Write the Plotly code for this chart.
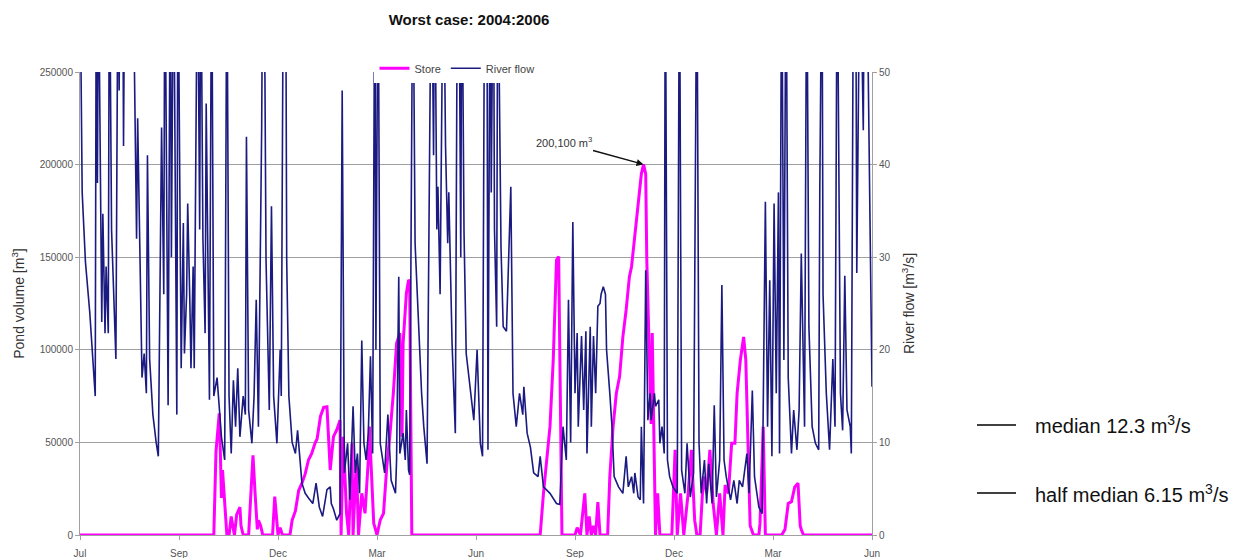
import pandas as pd
import plotly.graph_objects as go

START = pd.Timestamp("2004-07-01")

# River flow [m3/s]: day offset from 1 Jul 2004 and daily flow at that vertex
flow_day = [
    0, 1, 2, 5, 7, 9, 14, 15, 16, 17, 20, 21, 23, 24, 26, 27, 29, 33, 35, 36,
    37, 39, 40, 41, 45, 49, 52, 53, 57, 59, 61, 62, 64, 67, 70, 72, 75, 77, 78, 80,
    81, 83, 84, 86, 89, 90, 93, 95, 96, 98, 99, 101, 102, 104, 105, 108, 110, 111, 113, 115,
    116, 119, 121, 123, 126, 130, 133, 135, 137, 139, 141, 143, 145, 147, 150, 152, 153, 155, 158, 160,
    162, 164, 167, 168, 170, 171, 174, 176, 178, 181, 184, 185, 187, 189, 190, 192, 195, 198, 200, 204,
    207, 210, 214, 217, 220, 223, 227, 230, 231, 233, 236, 239, 241, 243, 246, 248, 251, 253, 255, 257,
    259, 261, 263, 265, 267, 269, 271, 272, 274, 276, 280, 283, 286, 290, 291, 293, 294, 297, 299, 300,
    302, 303, 306, 308, 311, 314, 316, 319, 320, 322, 323, 325, 326, 328, 329, 331, 332, 334, 336, 338,
    339, 342, 345, 347, 349, 350, 351, 353, 355, 359, 362, 365, 368, 370, 372, 374, 375, 377, 378, 380,
    381, 383, 384, 387, 389, 392, 394, 396, 398, 401, 404, 407, 408, 411, 414, 417, 421, 423, 426, 432,
    438, 441, 444, 447, 449, 451, 453, 455, 457, 458, 461, 463, 465, 466, 469, 470, 472, 474, 476, 478,
    479, 481, 483, 484, 487, 489, 491, 495, 499, 502, 504, 507, 509, 510, 513, 515, 516, 518, 520, 522,
    524, 525, 528, 529, 532, 533, 535, 537, 538, 540, 542, 545, 549, 551, 553, 556, 558, 561, 564, 567,
    569, 571, 574, 576, 578, 581, 583, 585, 588, 590, 592, 594, 598, 601, 604, 606, 609, 613, 615, 618,
    620, 624, 627, 630, 632, 634, 636, 638, 640, 642, 643, 645, 647, 649, 651, 654, 656, 659, 661, 663,
    666, 668, 670, 673, 676, 679, 680, 682, 683, 686, 689, 692, 694, 696, 699, 701, 703, 705, 708, 709,
    711, 713, 714, 717, 720, 721, 723, 728,
]
flow_val = [
    62, 44, 37, 29.5, 26.5, 24, 15, 65, 38, 62, 23, 34.7, 21.8, 29, 21.8, 65, 33, 19, 65, 48,
    65, 70, 42, 60, 70, 60, 32, 45, 17, 19.6, 15.3, 41, 19, 13, 10, 8.5, 44, 26, 65, 29,
    14, 65, 30, 65, 13, 65, 18, 33.7, 19.6, 26, 35.8, 25, 18, 29, 18, 65, 33, 65, 32, 21.8,
    46.6, 14.6, 65, 15, 17, 10.6, 8.1, 65, 15, 8.8, 16.7, 11.7, 18, 10.6, 15, 13, 43, 13.5, 9.9, 15,
    25.4, 11.7, 44, 65, 49.3, 29.7, 13.5, 35.5, 15, 9.9, 20, 15, 65, 65, 29.7, 15, 10, 8.8, 11.3, 5.6,
    4.5, 4.0, 3.4, 5.6, 3.0, 2.0, 4.9, 5.2, 3.4, 2.8, 1.6, 2.3, 48, 6.7, 9.9, 3.8, 13.9, 6.7, 8.8, 4.5,
    21, 9.9, 8.1, 11, 19.3, 8.8, 65, 20, 65, 9.9, 6.7, 13, 5.9, 4.5, 8.1, 27.9, 8.8, 11, 8.1, 13.5,
    7, 6.5, 65, 31.5, 22.5, 15.3, 11.7, 7.7, 22, 46, 65, 41, 65, 33, 37.6, 26, 40.5, 65, 42, 31.5,
    37, 20.7, 11, 65, 49.5, 30, 65, 32.6, 19.6, 15.3, 12.4, 20, 9.9, 8.5, 65, 65, 9.2, 65, 37, 65,
    33, 22.5, 65, 31, 22.5, 22, 30, 37.6, 15.3, 11.7, 15.3, 13, 16, 11, 9.5, 6.7, 6.3, 8.5, 5.2, 4.5,
    3.4, 3.3, 11.7, 8.1, 25.4, 10, 33.8, 15.3, 21.8, 11.7, 21.5, 13.5, 22, 8.8, 22.5, 11.7, 21.5, 15.3, 24.7, 25,
    26, 26.8, 26, 20, 15.3, 11.7, 6.3, 5.2, 4.5, 8.5, 5.2, 6.3, 4.5, 6.7, 4.1, 3.8, 11.7, 3.4, 28.6, 12.4,
    15.3, 12.4, 15.3, 13.9, 14.6, 9.9, 11.7, 8.8, 65, 8.1, 6.3, 5.2, 4.5, 65, 7, 4.5, 9.9, 4.1, 6.7, 65,
    9.9, 4.5, 8.1, 3.4, 7.7, 3.4, 14, 4.1, 8.1, 27, 8.1, 6.3, 3.8, 5.9, 3.4, 5.9, 5.2, 8.8, 4.5, 15.6,
    6.3, 3, 2.3, 36, 11.7, 27.5, 8.5, 35.8, 15.3, 37, 8.8, 65, 18.9, 65, 17, 8.8, 13.5, 9.2, 13.5, 30.4,
    11.7, 65, 22.5, 11.7, 9.9, 9.2, 37, 65, 26, 15.3, 9.2, 19, 11.7, 65, 15.3, 11.3, 28, 13.5, 11.7, 8.8,
    65, 65, 28.3, 65, 43.7, 65, 65, 16,
]

# Pond store volume [m3]
store_day = [
    0, 123, 125, 128, 129, 130, 131, 133, 135, 137, 139, 141, 142, 144, 147, 148, 150, 155, 157, 159,
    161, 163, 164, 166, 168, 177, 179, 181, 182, 184, 186, 193, 195, 198, 201, 204, 207, 210, 213, 216,
    218, 221, 224, 227, 228, 230, 233, 236, 239, 240, 242, 245, 247, 250, 251, 254, 256, 259, 262, 265,
    266, 270, 273, 276, 279, 282, 285, 288, 291, 294, 296, 297, 300, 302, 303, 305, 423, 426, 432, 435,
    438, 440, 443, 455, 457, 460, 464, 466, 468, 470, 472, 474, 476, 478, 485, 487, 490, 493, 496, 499,
    502, 505, 507, 510, 513, 516, 518, 520, 521, 523, 525, 526, 528, 529, 531, 533, 544, 547, 549, 552,
    555, 559, 562, 565, 567, 570, 573, 576, 579, 582, 585, 588, 591, 593, 596, 599, 602, 604, 607, 610,
    612, 614, 616, 619, 624, 625, 628, 630, 645, 648, 651, 654, 657, 660, 662, 663, 665, 728,
]
store_val = [
    0, 0, 45000, 65700, 45000, 20000, 35000, 15000, 0, 0, 10000, 3000, 0, 11000, 15000, 5000, 0, 0, 20000, 43000,
    22000, 3000, 8000, 5000, 0, 0, 20700, 5000, 0, 4000, 0, 0, 8000, 13000, 24000, 28000, 33000, 40500, 44000, 49500,
    52000, 64000, 69000, 69300, 58500, 35100, 53100, 56700, 62000, 0, 53000, 11700, 0, 49500, 0, 40500, 0, 22500, 11700, 40500,
    58500, 6300, 0, 8100, 11700, 36900, 54900, 76500, 103500, 109000, 53000, 103500, 130500, 137700, 137000, 0, 0, 22500, 58500, 94500,
    148500, 150300, 0, 0, 4000, 0, 22500, 0, 10000, 0, 5000, 0, 17800, 0, 0, 31500, 58500, 76500, 85500, 107000,
    121500, 139500, 145000, 163000, 181000, 195000, 200100, 195000, 148500, 109000, 60000, 109000, 20000, 0, 22500, 0, 0, 46000, 0, 22500,
    0, 22500, 46000, 8000, 0, 0, 31500, 22500, 46000, 17000, 0, 22500, 0, 27000, 22500, 49500, 49500, 76500, 94500, 107000,
    94500, 44000, 5000, 0, 0, 6000, 58500, 0, 0, 3000, 17000, 18000, 26000, 28000, 5000, 3000, 0, 0,
]

tick_days = [0, 91, 182, 273, 364, 455, 546, 637, 728]
tick_text = ["Jul", "Sep", "Dec", "Mar", "Jun", "Sep", "Dec", "Mar", "Jun"]

peak_day = 518
peak_volume = 200100

flow_dates = START + pd.to_timedelta(flow_day, unit="D")
store_dates = START + pd.to_timedelta(store_day, unit="D")
tick_dates = START + pd.to_timedelta(tick_days, unit="D")

FONT = "Liberation Sans, Arial, sans-serif"
GRID = "#a0a0a0"
TICKC = "#555555"

fig = go.Figure()
fig.add_trace(go.Scatter(
    x=store_dates, y=store_val, name="Store", mode="lines",
    line=dict(color="#ff00ff", width=3), yaxis="y",
))
fig.add_trace(go.Scatter(
    x=flow_dates, y=flow_val, name="River flow", mode="lines",
    line=dict(color="#1a1a80", width=1.6), yaxis="y2",
))

fig.update_layout(
    width=1253, height=558,
    margin=dict(l=80, r=381, t=72, b=23),
    paper_bgcolor="white", plot_bgcolor="white",
    font=dict(family=FONT, color="#333333"),
    title=dict(text="<b>Worst case: 2004:2006</b>", x=469 / 1253, xanchor="center",
               y=1 - 20 / 558, yanchor="middle", font=dict(size=15, color="#111111")),
    showlegend=True,
    legend=dict(orientation="h", x=0.476, xanchor="center", y=1.008, yanchor="middle",
                bgcolor="white", font=dict(size=11, color="#444444"),
                itemwidth=30, tracegroupgap=0),
    xaxis=dict(type="date", range=[tick_dates[0], tick_dates[-1]],
               tickvals=list(tick_dates), ticktext=tick_text, automargin=False,
               showgrid=False, showline=True, linecolor=GRID, linewidth=1,
               ticks="outside", ticklen=4, tickcolor=GRID, ticklabelstandoff=5,
               tickfont=dict(size=10, color=TICKC), zeroline=False),
    yaxis=dict(range=[0, 250000], tickvals=[0, 50000, 100000, 150000, 200000, 250000],
               tickformat="d", showgrid=True, gridcolor=GRID, gridwidth=1, automargin=False,
               showline=True, linecolor=GRID, ticks="outside", ticklen=4, tickcolor=GRID,
               tickfont=dict(size=10, color=TICKC), zeroline=False,
               title=dict(text="Pond volume [m<sup>3</sup>]", font=dict(size=14, color="#333333"),
                          standoff=11)),
    yaxis2=dict(range=[0, 50], tickvals=[0, 10, 20, 30, 40, 50], overlaying="y", side="right",
                showgrid=False, showline=True, linecolor=GRID, ticks="outside", ticklen=4,
                tickcolor=GRID, tickfont=dict(size=10, color=TICKC), zeroline=False,
                automargin=False,
                title=dict(text="River flow [m<sup>3</sup>/s]", font=dict(size=14, color="#333333"),
                           standoff=14)),
)

fig.add_annotation(
    x=START + pd.Timedelta(days=peak_day), y=peak_volume, xref="x", yref="y",
    text="200,100 m<sup>3</sup>", showarrow=True, arrowhead=2, arrowsize=1, arrowwidth=1.4,
    arrowcolor="#111111", ax=-80, ay=-22, font=dict(size=11, color="#333333"),
)

# Reference flows listed beside the chart
for label, ypx in [("median 12.3 m<sup>3</sup>/s", 425), ("half median 6.15 m<sup>3</sup>/s", 493)]:
    yp = (535 - ypx) / 463
    fig.add_shape(type="line", xref="paper", yref="paper",
                  x0=(977 - 80) / 792, x1=(1016 - 80) / 792, y0=yp, y1=yp,
                  line=dict(color="#000000", width=1.3))
    fig.add_annotation(xref="paper", yref="paper", x=(1033 - 80) / 792, y=yp,
                       xanchor="left", yanchor="middle", showarrow=False, text=label,
                       font=dict(size=20, color="#111111", family=FONT))

fig.write_html("out.html")
